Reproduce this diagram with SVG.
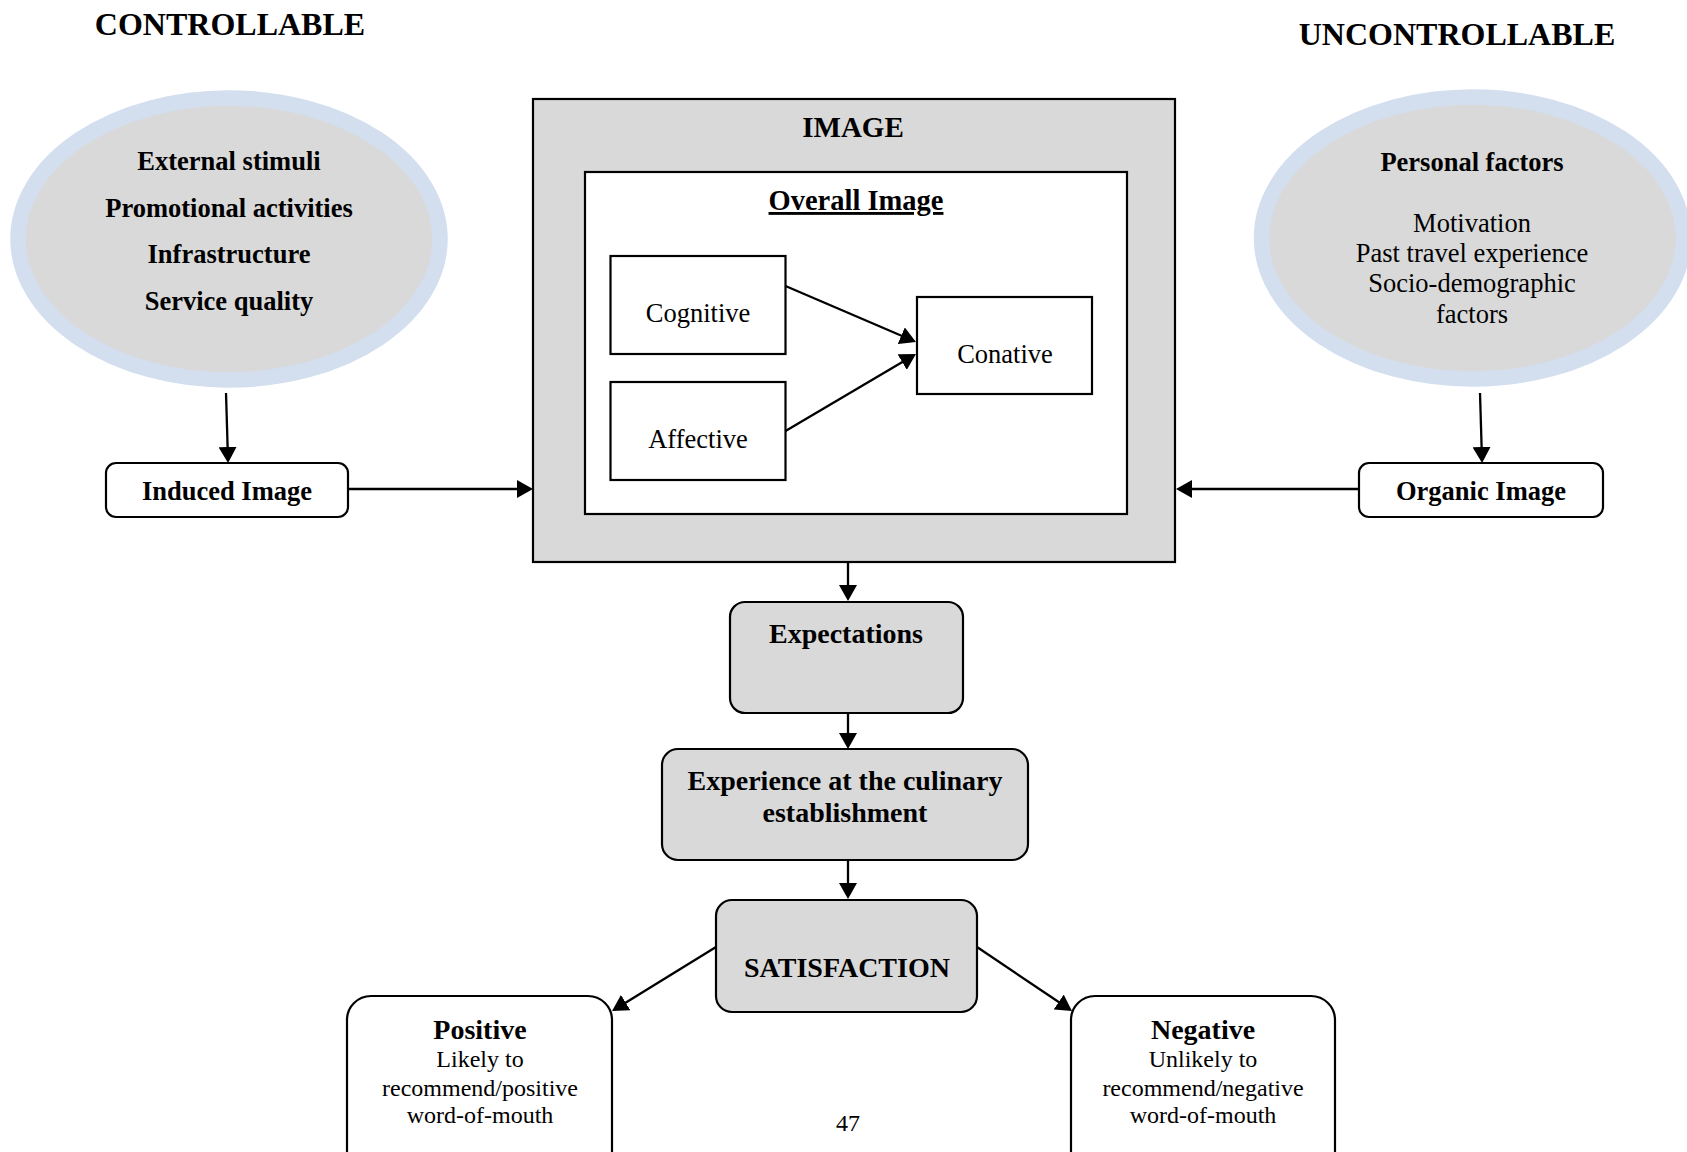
<svg xmlns="http://www.w3.org/2000/svg" width="1687" height="1152" viewBox="0 0 1687 1152">
<style>
text{font-family:"Liberation Serif","Times New Roman",serif;fill:#000;text-anchor:middle}
.b{font-weight:bold}
.t26{font-size:26.5px}
.t28{font-size:28px}
.r24{font-size:24px}
.r26{font-size:26.5px}
.ell{fill:#d9d9d9;stroke:#d3dfef;stroke-width:15.5}
.box{fill:#fff;stroke:#000;stroke-width:2.2}
.gbox{fill:#d9d9d9;stroke:#000;stroke-width:2.2}
.con{stroke:#000;stroke-width:2.3;fill:none}
</style>
<defs>
<marker id="ah" viewBox="0 0 16 18" refX="13" refY="9" markerWidth="16" markerHeight="18" markerUnits="userSpaceOnUse" orient="auto">
<path d="M0,0 L16,9 L0,18 z" fill="#000"/>
</marker>
</defs>

<text class="b" style="font-size:32px" x="230" y="35">CONTROLLABLE</text>
<text class="b" style="font-size:32px" x="1457" y="45">UNCONTROLLABLE</text>

<g id="external">
<ellipse class="ell" cx="229" cy="239" rx="211" ry="141"/>
<text class="b t26" x="229" y="170">External stimuli</text>
<text class="b t26" x="229" y="217">Promotional activities</text>
<text class="b t26" x="229" y="263">Infrastructure</text>
<text class="b t26" x="229" y="310">Service quality</text>
</g>

<g id="personal">
<ellipse class="ell" cx="1472.5" cy="238" rx="211" ry="141"/>
<text class="b t26" x="1472" y="171">Personal factors</text>
<text class="r26" x="1472" y="232">Motivation</text>
<text class="r26" x="1472" y="262">Past travel experience</text>
<text class="r26" x="1472" y="292">Socio-demographic</text>
<text class="r26" x="1472" y="323">factors</text>
</g>

<g id="induced">
<rect class="box" x="106" y="463" width="242" height="54" rx="10"/>
<text class="b t26" x="227" y="500">Induced Image</text>
</g>

<g id="organic">
<rect class="box" x="1359" y="463" width="244" height="54" rx="10"/>
<text class="b t26" x="1481" y="500">Organic Image</text>
</g>

<g id="image">
<rect class="gbox" x="533" y="99" width="642" height="463"/>
<text class="b" style="font-size:29px" x="853" y="137">IMAGE</text>
<rect class="box" x="585" y="172" width="542" height="342"/>
<text class="b" style="font-size:28.5px;text-decoration:underline" x="856" y="210">Overall Image</text>
</g>

<g id="cognitive">
<rect class="box" x="610.5" y="256" width="175" height="98"/>
<text class="r26" x="698" y="322">Cognitive</text>
</g>

<g id="affective">
<rect class="box" x="610.5" y="382" width="175" height="98"/>
<text class="r26" x="698" y="448">Affective</text>
</g>

<g id="conative">
<rect class="box" x="917" y="297" width="175" height="97"/>
<text class="r26" x="1005" y="363">Conative</text>
</g>

<g id="expectations">
<rect class="gbox" x="730" y="602" width="233" height="111" rx="15"/>
<text class="b t28" x="846" y="643">Expectations</text>
</g>

<g id="experience">
<rect class="gbox" x="662" y="749" width="366" height="111" rx="16"/>
<text class="b t28" x="845" y="790">Experience at the culinary</text>
<text class="b t28" x="845" y="822">establishment</text>
</g>

<g id="satisfaction">
<rect class="gbox" x="716" y="900" width="261" height="112" rx="16"/>
<text class="b t28" x="847" y="977">SATISFACTION</text>
</g>

<g id="positive">
<rect class="box" x="347" y="996" width="265" height="180" rx="24"/>
<text class="b t28" x="480" y="1039">Positive</text>
<text class="r24" x="480" y="1067">Likely to</text>
<text class="r24" x="480" y="1096">recommend/positive</text>
<text class="r24" x="480" y="1123">word-of-mouth</text>
</g>

<g id="negative">
<rect class="box" x="1071" y="996" width="264" height="180" rx="24"/>
<text class="b t28" x="1203" y="1039">Negative</text>
<text class="r24" x="1203" y="1067">Unlikely to</text>
<text class="r24" x="1203" y="1096">recommend/negative</text>
<text class="r24" x="1203" y="1123">word-of-mouth</text>
</g>

<text class="r24" x="848" y="1131">47</text>

<g id="connectors">
<line class="con" x1="226" y1="393" x2="228" y2="460" marker-end="url(#ah)"/>
<line class="con" x1="1480" y1="393" x2="1482" y2="460" marker-end="url(#ah)"/>
<line class="con" x1="348" y1="489" x2="530" y2="489" marker-end="url(#ah)"/>
<line class="con" x1="1359" y1="489" x2="1179" y2="489" marker-end="url(#ah)"/>
<line class="con" x1="785.5" y1="286" x2="913.2" y2="340.8" marker-end="url(#ah)"/>
<line class="con" x1="785.5" y1="431" x2="913.4" y2="355.5" marker-end="url(#ah)"/>
<line class="con" x1="848" y1="562" x2="848" y2="598" marker-end="url(#ah)"/>
<line class="con" x1="848" y1="713" x2="848" y2="746" marker-end="url(#ah)"/>
<line class="con" x1="848" y1="860" x2="848" y2="896" marker-end="url(#ah)"/>
<line class="con" x1="716" y1="947" x2="614.6" y2="1009.4" marker-end="url(#ah)"/>
<line class="con" x1="977" y1="947" x2="1069.5" y2="1009.3" marker-end="url(#ah)"/>
</g>
</svg>
